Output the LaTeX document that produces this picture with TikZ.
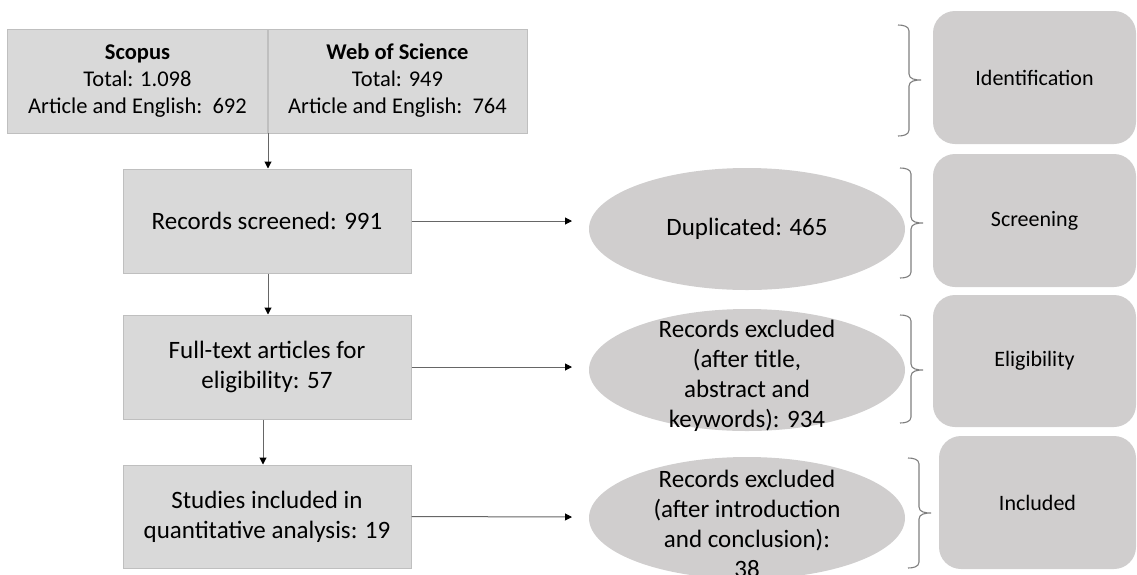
\documentclass[tikz,border=0pt]{standalone}
\usepackage{fontspec}
\setmainfont{Carlito}
\usetikzlibrary{shapes.geometric,arrows.meta}
\definecolor{boxfill}{HTML}{D9D9D9}
\definecolor{boxline}{HTML}{BFBFBF}
\definecolor{ellfill}{HTML}{D0CECE}
\definecolor{bracecol}{HTML}{7F7F7F}
\tikzset{
  topcell/.style={draw=boxline, line width=1pt, fill=boxfill, minimum width=260, minimum height=104, inner sep=0pt, align=center, font=\fontsize{22.5}{27}\selectfont},
  flowbox/.style={draw=boxline, line width=1pt, fill=boxfill, minimum width=288, minimum height=104, inner sep=0pt, align=center, font=\fontsize{25}{30}\selectfont},
  ellbox/.style={ellipse, fill=ellfill, minimum width=316, minimum height=122, inner sep=0pt},
  elltext/.style={align=center, inner sep=0pt, font=\fontsize{25}{30}\selectfont},
  phasebox/.style={rounded corners=22, fill=ellfill, minimum width=203, minimum height=133, inner sep=0pt, font=\fontsize{22}{26}\selectfont},
  conn/.style={draw=black!60, line width=1pt, -{Triangle[length=7pt, width=7pt, fill=black, color=black]}},
  bracestyle/.style={draw=bracecol, line width=1.1pt},
}
\begin{document}
\begin{tikzpicture}[x=1pt, y=-1pt]
\useasboundingbox (0,0) rectangle (1137,574);
\clip (0,0) rectangle (1137,574);
% top database box
\node[topcell] (scopus) at (137.5,81) {\textbf{Scopus}\\Total: 1.098\\Article and English:\ \ 692};
\node[topcell, minimum width=259] (wos) at (397.5,81) {\textbf{Web of Science}\\Total: 949\\Article and English:\ \ 764};
% flow boxes
\node[flowbox] (screened) at (267,221) {Records screened: 991};
\node[flowbox] (fulltext) at (267,367) {Full-text articles for\\eligibility: 57};
\node[flowbox, minimum height=103] (studies) at (267,516.5) {Studies included in\\quantitative analysis: 19};
% ellipses
\node[ellbox] (dup) at (747,229) {};
\node[elltext] (duptext) at (dup.center) {Duplicated: 465};
\node[ellbox] (excl1) at (747,370) {};
\node[elltext] (excl1text) at (747,376) {Records excluded\\(after title,\\abstract and\\keywords): 934};
\node[ellbox] (excl2) at (747,518) {};
\node[elltext] (excl2text) at (747,524) {Records excluded\\(after introduction\\and conclusion):\\38};
% phase boxes
\node[phasebox] (ident) at (1034.5,77.5) {Identification};
\node[phasebox] (screen) at (1034.5,220.5) {Screening};
\node[phasebox, minimum height=132] (elig) at (1034.5,361) {Eligibility};
\node[phasebox, minimum width=197, minimum height=133] (incl) at (1037.5,502.5) {Included};
% vertical connectors
\draw[conn] (268,133) -- (screened.north -| 268,0);
\draw[conn] (screened.south -| 268,0) -- (fulltext.north -| 268,0);
\draw[conn] (fulltext.south -| 263,0) -- (studies.north -| 263,0);
% horizontal connectors
\coordinate (e1) at (572,221);
\coordinate (e2) at (572,367);
\coordinate (e3) at (572,517);
\draw[conn] (screened.east) -- (e1);
\draw[conn] (fulltext.east) -- (e2);
\draw[conn] (studies.east) -- (e3);
% braces
\draw[bracestyle] (898,25) to[out=0,in=90] (909,31) -- (909,74) to[out=-90,in=180] (921,80) to[out=180,in=90] (909,86) -- (909,130) to[out=-90,in=0] (898,136);
\draw[bracestyle] (900,168) to[out=0,in=90] (911,174) -- (911,217) to[out=-90,in=180] (923,223) to[out=180,in=90] (911,229) -- (911,272) to[out=-90,in=0] (900,278);
\draw[bracestyle] (900,315) to[out=0,in=90] (911,321) -- (911,364) to[out=-90,in=180] (923,370) to[out=180,in=90] (911,376) -- (911,417) to[out=-90,in=0] (900,423);
\draw[bracestyle] (908,458) to[out=0,in=90] (919,464) -- (919,507) to[out=-90,in=180] (931,513) to[out=180,in=90] (919,519) -- (919,562) to[out=-90,in=0] (908,568);
\end{tikzpicture}
\end{document}
